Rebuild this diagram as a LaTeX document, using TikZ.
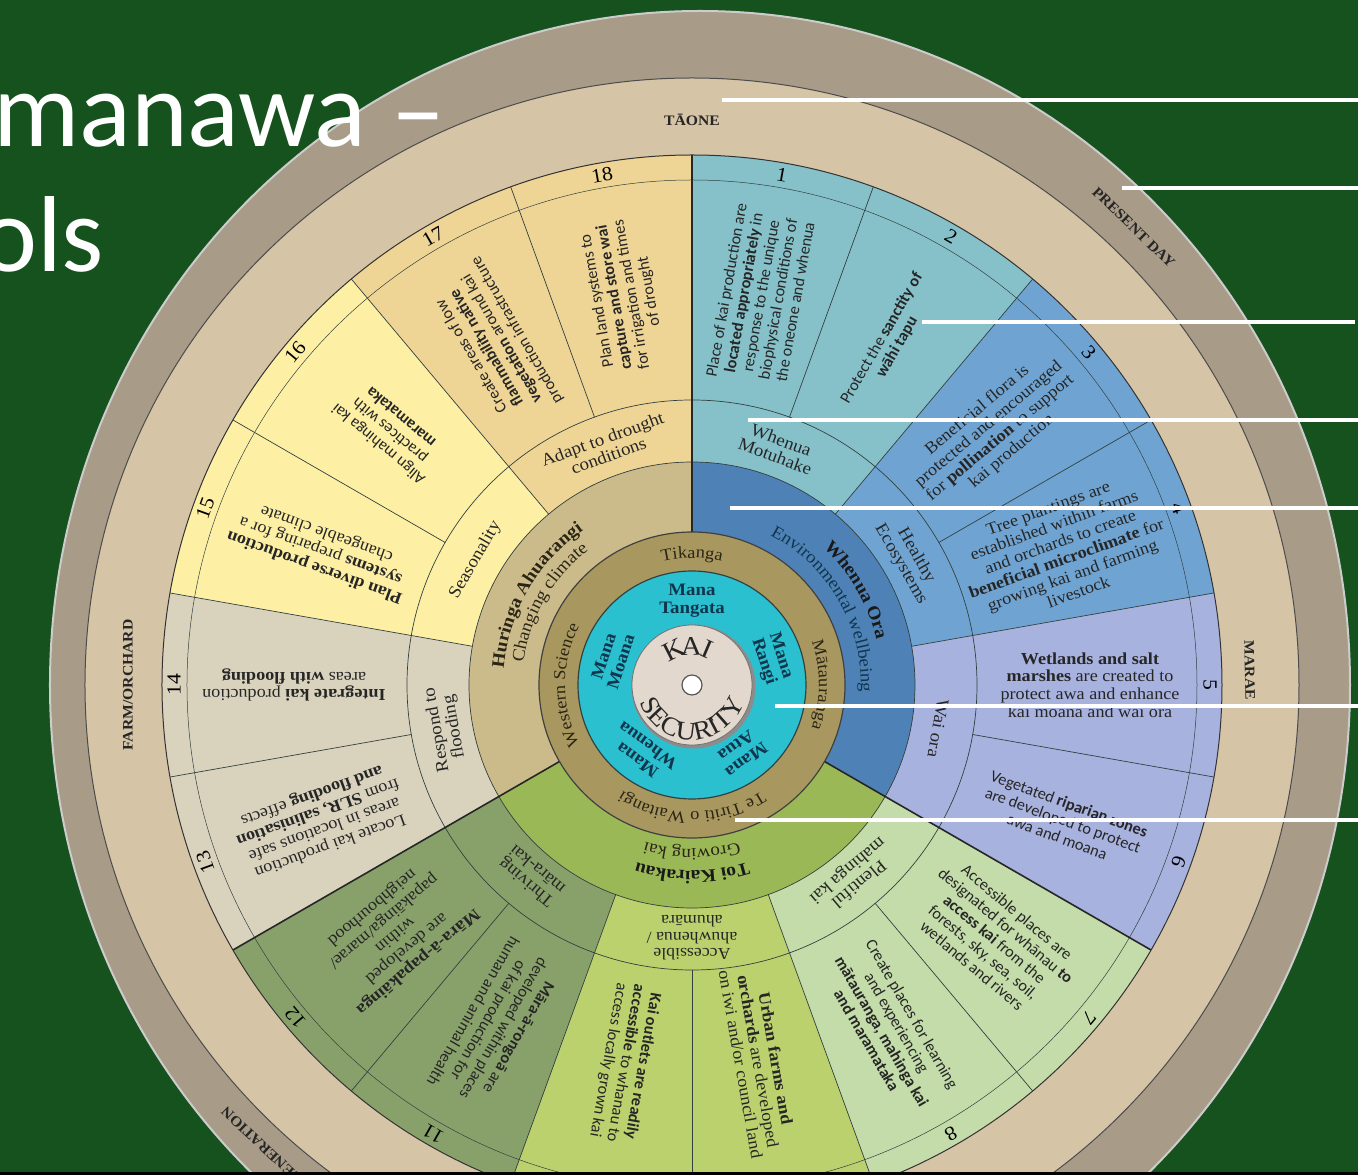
\documentclass[tikz,border=0pt]{standalone}
\usepackage{fontspec}
\setmainfont[FakeStretch=1.08]{Liberation Serif}
\newfontfamily\cellsansfont{Carlito}
\newfontfamily\titlefont{Carlito}
\usetikzlibrary{decorations.text}

\definecolor{slidegreen}{HTML}{16521E}
\definecolor{rimbrown}{HTML}{A89B87}
\definecolor{ringbeige}{HTML}{D5C4A6}
\definecolor{tealcell}{HTML}{86C1CA}
\definecolor{bluecell}{HTML}{6FA4D2}
\definecolor{lavcell}{HTML}{A8B2DF}
\definecolor{lgreencell}{HTML}{C3DCA9}
\definecolor{ygreencell}{HTML}{BBD16D}
\definecolor{olivecell}{HTML}{88A16B}
\definecolor{greycell}{HTML}{D9D3BE}
\definecolor{yellowcell}{HTML}{FDF0A5}
\definecolor{peachcell}{HTML}{EFD595}
\definecolor{oraBlue}{HTML}{4E81B5}
\definecolor{toiGreen}{HTML}{9BB857}
\definecolor{huringaTan}{HTML}{CBBB8B}
\definecolor{tikangaBrown}{HTML}{A8975F}
\definecolor{manaCyan}{HTML}{2BC0D0}
\definecolor{kaiDisk}{HTML}{E3D8CD}
\definecolor{inkline}{HTML}{33403F}
\definecolor{cellink}{HTML}{262626}
\definecolor{manaink}{HTML}{10364D}
\definecolor{ringink}{HTML}{2B2514}

% ring piece: colour, from angle, to angle, outer radius, inner radius
\newcommand{\annulus}[5]{%
  \fill[#1] (#2:#4) arc[start angle=#2, end angle=#3, radius=#4]
    -- (#3:#5) arc[start angle=#3, end angle=#2, radius=#5] -- cycle;}
\newcommand{\ringfont}{\fontsize{17}{17}\selectfont}
\newcommand{\securefont}{\fontsize{26}{26}\selectfont}
\newcommand{\pillarfont}{\bfseries\fontsize{18}{18}\selectfont}
\newcommand{\pillarsub}{\fontsize{17.5}{17.5}\selectfont}

\begin{document}
\begin{tikzpicture}[x=1pt, y=1pt,
  thinrule/.style={draw=inkline, line width=0.7pt},
  sectorrule/.style={draw=black!85, line width=1.6pt},
  cellsans/.style={font=\cellsansfont\fontsize{16.3}{17.5}\selectfont, align=center, text=cellink, inner sep=0pt},
  cellserif/.style={font=\fontsize{16.8}{17.8}\selectfont, align=center, text=cellink, inner sep=0pt},
  cellnum/.style={font=\fontsize{20}{20}\selectfont, text=black, inner sep=0pt},
  themelabel/.style={font=\fontsize{17.5}{17.5}\selectfont, align=center, text=cellink, inner sep=0pt},
  manalabel/.style={font=\bfseries\fontsize{17.5}{18}\selectfont, align=center, text=manaink, inner sep=0pt},
  kailetter/.style={font=\fontsize{27}{27}\selectfont, text=black!85, inner sep=0pt},
  outerlabel/.style={font=\bfseries\fontsize{14.5}{14.5}\selectfont, text=black!85, inner sep=0pt},
  pointer/.style={draw=white, line width=4pt},
  titletext/.style={font=\titlefont\fontsize{108}{108}\selectfont, text=white, inner sep=0pt},
  ringtext/.style={decorate, decoration={text along path, text align=center, text={#1}}}
]
\useasboundingbox (-692,-490) rectangle (666,685);
\clip (-692,-490) rectangle (666,685);
\fill[slidegreen] (-692,-490) rectangle (666,685);

% outer rings
\fill[rimbrown] (8,0) ellipse[x radius=650pt, y radius=674pt];
\draw[gray!40, line width=2pt] (8,0) ellipse[x radius=650pt, y radius=674pt];
\fill[ringbeige] (0,0) circle[radius=607pt];
\draw[black!70, line width=1pt] (0,0) circle[radius=607pt];

% outcome cells and themes
\foreach \a/\col in {90/tealcell, 50/bluecell, 10/lavcell, -30/lgreencell, -70/ygreencell,
    -110/olivecell, -150/greycell, 170/yellowcell, 130/peachcell}
  {\annulus{\col}{\a}{\a-40}{530pt}{223pt}}

% pillars
\annulus{oraBlue}{90}{-30}{223pt}{153pt}
\annulus{toiGreen}{-30}{-150}{223pt}{153pt}
\annulus{huringaTan}{210}{90}{223pt}{153pt}

\draw[black!80, line width=1pt] (0,0) circle[radius=530pt];
\draw[thinrule, line width=0.5pt] (0,0) circle[radius=505pt];
\draw[thinrule] (0,0) circle[radius=285pt];
\draw[thinrule] (0,0) circle[radius=223pt];

\foreach \a in {70,30,-10,-50,-90,-130,-170,150,110}
  \draw[thinrule] (\a:285pt) -- (\a:530pt);
\foreach \a in {50,10,-70,-110,170,130}
  \draw[thinrule] (\a:223pt) -- (\a:530pt);
\foreach \a in {90,-30,-150}
  \draw[sectorrule] (\a:153pt) -- (\a:530pt);

% centre
\fill[tikangaBrown] (0,0) circle[radius=153pt];
\draw[black!75, line width=1.2pt] (0,0) circle[radius=153pt];
\fill[manaCyan] (0,0) circle[radius=114pt];
\draw[inkline, line width=1.2pt] (0,0) circle[radius=114pt];
\fill[black!45] (1.5,-1.5) circle[radius=62pt];
\fill[kaiDisk] (0,0) circle[radius=60pt];
\draw[black!55, line width=0.8pt] (0,0) circle[radius=60pt];
\draw[fill=white, draw=gray!70!black, line width=1.2pt] (0,0) circle[radius=10pt];

% numbers (9 and 10 fall below the frame)
\foreach \i in {1,...,8,11,12,...,18} {
  \pgfmathsetmacro\mid{100-20*\i}
  \node[cellnum, rotate=\mid-90] (num\i) at (\mid:518pt) {\i};
}

% outcomes
\node[cellsans, rotate=80] (cell1) at (80:395pt) {Place of kai production are\\\textbf{located appropriately} in\\response to the unique\\biophysical conditions of\\the oneone and whenua};
\node[cellsans, rotate=60] (cell2) at (60:395pt) {Protect the \textbf{sanctity of}\\\textbf{wāhi tapu}};
\node[cellserif, rotate=40] (cell3) at (40:395pt) {Beneficial flora is\\protected and encouraged\\for \textbf{pollination} to support\\kai production};
\node[cellserif, rotate=20] (cell4) at (20:395pt) {Tree plantings are\\established within farms\\and orchards to create\\\textbf{beneficial microclimate} for\\growing kai and farming\\livestock};
\node[cellserif] (cell5) at (0:398pt) {\textbf{Wetlands and salt}\\\textbf{marshes} are created to\\protect awa and enhance\\kai moana and wai ora};
\node[cellsans, rotate=-20] (cell6) at (-20:395pt) {Vegetated \textbf{riparian zones}\\are developed to protect\\awa and moana};
\node[cellsans, rotate=-40] (cell7) at (-40:395pt) {Accessible places are\\designated for whānau \textbf{to}\\\textbf{access kai} from the\\forests, sky, sea, soil,\\wetlands and rivers};
\node[cellsans, rotate=-60] (cell8) at (-60:395pt) {Create places for learning\\and experiencing\\\textbf{mātauranga, mahinga kai}\\\textbf{and maramataka}};
\node[cellserif, rotate=-80] (cell9) at (-80:382pt) {\textbf{Urban farms and}\\\textbf{orchards} are developed\\on iwi and/or council land};
\node[cellsans, rotate=-100] (cell10) at (-100:384pt) {\textbf{Kai outlets are readily}\\\textbf{accessible} to whanau to\\access locally grown kai};
\node[cellsans, rotate=-120] (cell11) at (-120:392pt) {\textbf{Māra-ā-rongoā} are\\developed within places\\of kai production for\\human and animal health};
\node[cellserif, rotate=-140] (cell12) at (-140:388pt) {\textbf{Māra-ā-papakāinga}\\are developed\\within\\papakāinga/marae/\\neighbourhood};
\node[cellserif, rotate=-160] (cell13) at (-160:395pt) {Locate kai production\\areas in locations safe\\from \textbf{SLR, salinisation}\\\textbf{and flooding} effects};
\node[cellserif, rotate=180] (cell14) at (180:398pt) {\textbf{Integrate kai} production\\areas \textbf{with flooding}};
\node[cellserif, rotate=160] (cell15) at (160:395pt) {\textbf{Plan diverse production}\\\textbf{systems} preparing for a\\changeable climate};
\node[cellsans, rotate=140] (cell16) at (140:395pt) {Align mahinga kai\\practices with\\\textbf{maramataka}};
\node[cellsans, rotate=120] (cell17) at (120:395pt) {Create areas of low\\\textbf{flammability native}\\\textbf{vegetation} around kai\\production infrastructure};
\node[cellsans, rotate=100] (cell18) at (100:395pt) {Plan land systems to\\\textbf{capture and store wai}\\for irrigation and times\\of drought};

% themes
\node[themelabel, rotate=-20] (motuhake) at (70:252pt) {Whenua\\Motuhake};
\node[themelabel, rotate=-60] (healthy) at (30:250pt) {Healthy\\Ecosystems};
\node[themelabel, rotate=-100] (waiora) at (-10:250pt) {Wai ora};
\node[themelabel, rotate=-140] (plentiful) at (-50:250pt) {Plentiful\\mahinga kai};
\node[themelabel, rotate=180, font=\fontsize{16.5}{16.5}\selectfont] (accessible) at (-90:253pt) {Accessible\\ahuwhenua /\\ahumāra};
\node[themelabel, rotate=140] (thriving) at (-130:250pt) {Thriving\\māra-kai};
\node[themelabel, rotate=100] (flooding) at (190:250pt) {Respond to\\flooding};
\node[themelabel, rotate=60] (seasonality) at (150:250pt) {Seasonality};
\node[themelabel, rotate=20] (drought) at (110:253pt) {Adapt to drought\\conditions};

% pillars text
\path[ringtext={|\pillarfont|Whenua Ora}, decoration={text color=black!90}] (90:190pt) arc[start angle=90, end angle=-30, radius=190pt];
\path[ringtext={|\pillarsub|Environmental wellbeing}, decoration={text color=manaink}] (90:169pt) arc[start angle=90, end angle=-30, radius=169pt];
\path[ringtext={|\pillarfont|Toi Kairakau}, decoration={text color=black!90}] (-30:186pt) arc[start angle=-30, end angle=-150, radius=186pt];
\path[ringtext={|\pillarsub|Growing kai}, decoration={text color=ringink}] (-30:164pt) arc[start angle=-30, end angle=-150, radius=164pt];
\path[ringtext={|\pillarfont|Huringa Ahuarangi}, decoration={text color=ringink}] (210:189pt) arc[start angle=210, end angle=90, radius=189pt];
\path[ringtext={|\pillarsub|Changing climate}, decoration={text color=ringink}] (210:170pt) arc[start angle=210, end angle=90, radius=170pt];

% knowledge ring
\path[ringtext={|\ringfont|Tikanga}, decoration={text color=ringink}] (140:127pt) arc[start angle=140, end angle=40, radius=127pt];
\path[ringtext={|\ringfont|Mātauranga}, decoration={text color=ringink}] (50:127pt) arc[start angle=50, end angle=-50, radius=127pt];
\path[ringtext={|\ringfont|Te Tiriti o Waitangi}, decoration={text color=ringink}] (-30:127pt) arc[start angle=-30, end angle=-150, radius=127pt];
\path[ringtext={|\ringfont|Western Science}, decoration={text color=ringink}] (235:127pt) arc[start angle=235, end angle=125, radius=127pt];

% mana
\foreach \a/\nm in {90/Tangata, 18/Rangi, -54/Atua, -126/Whenua, 162/Moana}
  \node[manalabel, rotate=\a-90] (mana\nm) at (\a:84pt) {Mana\\\nm};

% kai security
\foreach \ch/\ang in {K/117, A/91, I/67}
  \node[kailetter, rotate=\ang-90] (kai\ch) at (\ang:39pt) {\ch};
\path[ringtext={|\securefont|SECURITY}, decoration={text color=black!85}] (185:55pt) arc[start angle=185, end angle=355, radius=55pt];

% outer labels
\node[outerlabel] (taone) at (90:565pt) {TĀONE};
\node[outerlabel, rotate=-89] (marae) at (1.5:558pt) {MARAE};
\node[outerlabel, rotate=90] (farm) at (180:564pt) {FARM/ORCHARD};
\node[outerlabel, rotate=-44] (present) at (46:636pt) {PRESENT DAY};
\node[outerlabel, rotate=137] (generation) at (-133:630pt) {GENERATION};

% pointers
\foreach \y/\x/\e [count=\k] in {585/30/666, 497/430/666, 363/230/663, 265/56/666, 177/38/666, -21/83/666, -135/43/666} {
  \coordinate (tip\k) at (\x,\y);
  \coordinate (edge\k) at (\e,\y);
  \draw[pointer] (tip\k) -- (edge\k);
}

% title
\node[titletext, anchor=base west] (title1) at (-699,538) {manawa –};
\node[titletext, anchor=base west] (title2) at (-712,413) {ols};

\fill[black] (-692,-490) rectangle (666,-487);
\end{tikzpicture}
\end{document}
